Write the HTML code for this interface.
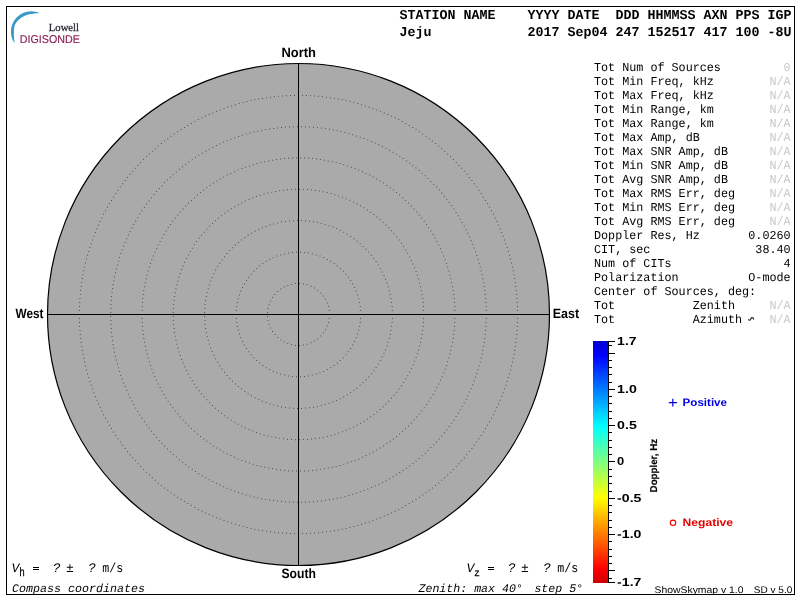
<!DOCTYPE html><html><head><meta charset="utf-8"><style>html,body{margin:0;padding:0;background:#fff;width:800px;height:600px;overflow:hidden}svg{display:block;will-change:transform;text-rendering:geometricPrecision}</style></head><body>
<svg width="800" height="600" viewBox="0 0 800 600">
<rect x="0" y="0" width="800" height="600" fill="#fff"/>
<rect x="6.5" y="6.5" width="788" height="588" fill="none" stroke="#000" stroke-width="1"/>
<path d="M39.8 13.0 A20.39 20.39 0 0 0 14.6 43.2 C14.50 42.17 14.12 38.87 14.0 37 C13.88 35.13 13.85 33.67 13.9 32 C13.95 30.33 14.05 28.33 14.3 27 C14.55 25.67 14.97 24.87 15.4 24 C15.83 23.13 16.40 22.47 16.9 21.8 C17.40 21.13 17.83 20.57 18.4 20.0 C18.97 19.43 19.55 18.95 20.3 18.4 C21.05 17.85 21.95 17.22 22.9 16.7 C23.85 16.18 24.90 15.70 26 15.3 C27.10 14.90 28.33 14.55 29.5 14.3 C30.67 14.05 31.28 14.02 33 13.8 C34.72 13.58 38.67 13.13 39.8 13.0 Z" fill="#3899c6"/>
<text x="48.8" y="30.9" font-family='"Liberation Serif", serif' font-size="10.9" fill="#2e2a33" stroke="#2e2a33" stroke-width="0.3" textLength="30.2" lengthAdjust="spacingAndGlyphs">Lowell</text>
<text x="19.8" y="43.1" font-family='"Liberation Sans", sans-serif' font-size="11.3" fill="#8c1f55" stroke="#8c1f55" stroke-width="0.15" textLength="60" lengthAdjust="spacingAndGlyphs">DIGISONDE</text>
<text x="399.4" y="19" font-family='"Liberation Mono", monospace' font-weight="bold" font-size="13.5" fill="#000" xml:space="preserve" textLength="392" lengthAdjust="spacingAndGlyphs">STATION NAME    YYYY DATE  DDD HHMMSS AXN PPS IGP</text>
<text x="399.4" y="36" font-family='"Liberation Mono", monospace' font-weight="bold" font-size="13.5" fill="#000" xml:space="preserve" textLength="392" lengthAdjust="spacingAndGlyphs">Jeju            2017 Sep04 247 152517 417 100 -8U</text>
<circle cx="298.5" cy="314.5" r="251" fill="#aaaaaa" stroke="none"/>
<path fill="#505050" d="M329.0 314.0h1v1h-1zM328.7 310.0h1v1h-1zM328.0 306.1h1v1h-1zM326.7 302.4h1v1h-1zM325.0 298.8h1v1h-1zM322.8 295.5h1v1h-1zM320.3 292.4h1v1h-1zM317.3 289.8h1v1h-1zM314.1 287.5h1v1h-1zM310.5 285.7h1v1h-1zM306.8 284.3h1v1h-1zM302.9 283.4h1v1h-1zM299.0 283.0h1v1h-1zM295.0 283.1h1v1h-1zM291.1 283.8h1v1h-1zM287.3 284.9h1v1h-1zM283.7 286.5h1v1h-1zM280.3 288.6h1v1h-1zM277.2 291.1h1v1h-1zM274.4 293.9h1v1h-1zM272.0 297.1h1v1h-1zM270.1 300.5h1v1h-1zM268.6 304.2h1v1h-1zM267.6 308.1h1v1h-1zM267.1 312.0h1v1h-1zM267.1 316.0h1v1h-1zM267.6 319.9h1v1h-1zM268.6 323.8h1v1h-1zM270.1 327.5h1v1h-1zM272.0 330.9h1v1h-1zM274.4 334.1h1v1h-1zM277.2 336.9h1v1h-1zM280.3 339.4h1v1h-1zM283.7 341.5h1v1h-1zM287.3 343.1h1v1h-1zM291.1 344.2h1v1h-1zM295.0 344.9h1v1h-1zM299.0 345.0h1v1h-1zM302.9 344.6h1v1h-1zM306.8 343.7h1v1h-1zM310.5 342.3h1v1h-1zM314.1 340.5h1v1h-1zM317.3 338.2h1v1h-1zM320.3 335.6h1v1h-1zM322.8 332.5h1v1h-1zM325.0 329.2h1v1h-1zM326.7 325.6h1v1h-1zM328.0 321.9h1v1h-1zM328.7 318.0h1v1h-1zM360.2 314.0h1v1h-1zM360.1 310.0h1v1h-1zM359.7 306.0h1v1h-1zM359.1 302.1h1v1h-1zM358.2 298.2h1v1h-1zM357.0 294.4h1v1h-1zM355.7 290.7h1v1h-1zM354.0 287.0h1v1h-1zM352.2 283.5h1v1h-1zM350.1 280.1h1v1h-1zM347.8 276.8h1v1h-1zM345.4 273.7h1v1h-1zM342.7 270.7h1v1h-1zM339.8 268.0h1v1h-1zM336.8 265.4h1v1h-1zM333.6 263.0h1v1h-1zM330.2 260.8h1v1h-1zM326.8 258.9h1v1h-1zM323.2 257.1h1v1h-1zM319.5 255.6h1v1h-1zM315.7 254.4h1v1h-1zM311.8 253.4h1v1h-1zM307.9 252.6h1v1h-1zM304.0 252.1h1v1h-1zM300.0 251.8h1v1h-1zM296.0 251.8h1v1h-1zM292.0 252.1h1v1h-1zM288.1 252.6h1v1h-1zM284.2 253.4h1v1h-1zM280.3 254.4h1v1h-1zM276.5 255.6h1v1h-1zM272.8 257.1h1v1h-1zM269.2 258.9h1v1h-1zM265.8 260.8h1v1h-1zM262.4 263.0h1v1h-1zM259.2 265.4h1v1h-1zM256.2 268.0h1v1h-1zM253.3 270.7h1v1h-1zM250.6 273.7h1v1h-1zM248.2 276.8h1v1h-1zM245.9 280.1h1v1h-1zM243.8 283.5h1v1h-1zM242.0 287.0h1v1h-1zM240.3 290.7h1v1h-1zM239.0 294.4h1v1h-1zM237.8 298.2h1v1h-1zM236.9 302.1h1v1h-1zM236.3 306.0h1v1h-1zM235.9 310.0h1v1h-1zM235.8 314.0h1v1h-1zM235.9 318.0h1v1h-1zM236.3 322.0h1v1h-1zM236.9 325.9h1v1h-1zM237.8 329.8h1v1h-1zM239.0 333.6h1v1h-1zM240.3 337.3h1v1h-1zM242.0 341.0h1v1h-1zM243.8 344.5h1v1h-1zM245.9 347.9h1v1h-1zM248.2 351.2h1v1h-1zM250.6 354.3h1v1h-1zM253.3 357.3h1v1h-1zM256.2 360.0h1v1h-1zM259.2 362.6h1v1h-1zM262.4 365.0h1v1h-1zM265.8 367.2h1v1h-1zM269.2 369.1h1v1h-1zM272.8 370.9h1v1h-1zM276.5 372.4h1v1h-1zM280.3 373.6h1v1h-1zM284.2 374.6h1v1h-1zM288.1 375.4h1v1h-1zM292.0 375.9h1v1h-1zM296.0 376.2h1v1h-1zM300.0 376.2h1v1h-1zM304.0 375.9h1v1h-1zM307.9 375.4h1v1h-1zM311.8 374.6h1v1h-1zM315.7 373.6h1v1h-1zM319.5 372.4h1v1h-1zM323.2 370.9h1v1h-1zM326.8 369.1h1v1h-1zM330.2 367.2h1v1h-1zM333.6 365.0h1v1h-1zM336.8 362.6h1v1h-1zM339.8 360.0h1v1h-1zM342.7 357.3h1v1h-1zM345.4 354.3h1v1h-1zM347.8 351.2h1v1h-1zM350.1 347.9h1v1h-1zM352.2 344.5h1v1h-1zM354.0 341.0h1v1h-1zM355.7 337.3h1v1h-1zM357.0 333.6h1v1h-1zM358.2 329.8h1v1h-1zM359.1 325.9h1v1h-1zM359.7 322.0h1v1h-1zM360.1 318.0h1v1h-1zM391.9 314.0h1v1h-1zM391.8 310.0h1v1h-1zM391.6 306.0h1v1h-1zM391.1 302.0h1v1h-1zM390.5 298.0h1v1h-1zM389.8 294.1h1v1h-1zM388.8 290.2h1v1h-1zM387.7 286.3h1v1h-1zM386.5 282.5h1v1h-1zM385.0 278.8h1v1h-1zM383.5 275.1h1v1h-1zM381.7 271.5h1v1h-1zM379.8 267.9h1v1h-1zM377.8 264.5h1v1h-1zM375.6 261.1h1v1h-1zM373.3 257.8h1v1h-1zM370.8 254.7h1v1h-1zM368.2 251.6h1v1h-1zM365.5 248.7h1v1h-1zM362.6 245.9h1v1h-1zM359.6 243.2h1v1h-1zM356.5 240.6h1v1h-1zM353.4 238.2h1v1h-1zM350.1 235.9h1v1h-1zM346.7 233.7h1v1h-1zM343.2 231.7h1v1h-1zM339.6 229.8h1v1h-1zM336.0 228.1h1v1h-1zM332.3 226.6h1v1h-1zM328.5 225.2h1v1h-1zM324.7 224.0h1v1h-1zM320.8 222.9h1v1h-1zM316.9 222.0h1v1h-1zM313.0 221.3h1v1h-1zM309.0 220.7h1v1h-1zM305.0 220.4h1v1h-1zM301.0 220.1h1v1h-1zM297.0 220.1h1v1h-1zM293.0 220.2h1v1h-1zM289.0 220.5h1v1h-1zM285.0 221.0h1v1h-1zM281.0 221.6h1v1h-1zM277.1 222.5h1v1h-1zM273.2 223.4h1v1h-1zM269.4 224.6h1v1h-1zM265.6 225.9h1v1h-1zM261.8 227.3h1v1h-1zM258.2 229.0h1v1h-1zM254.6 230.7h1v1h-1zM251.1 232.7h1v1h-1zM247.6 234.8h1v1h-1zM244.3 237.0h1v1h-1zM241.0 239.4h1v1h-1zM237.9 241.9h1v1h-1zM234.9 244.5h1v1h-1zM232.0 247.2h1v1h-1zM229.2 250.1h1v1h-1zM226.5 253.1h1v1h-1zM224.0 256.2h1v1h-1zM221.6 259.5h1v1h-1zM219.3 262.8h1v1h-1zM217.2 266.2h1v1h-1zM215.2 269.7h1v1h-1zM213.4 273.3h1v1h-1zM211.7 276.9h1v1h-1zM210.2 280.6h1v1h-1zM208.9 284.4h1v1h-1zM207.7 288.2h1v1h-1zM206.7 292.1h1v1h-1zM205.8 296.1h1v1h-1zM205.1 300.0h1v1h-1zM204.6 304.0h1v1h-1zM204.3 308.0h1v1h-1zM204.1 312.0h1v1h-1zM204.1 316.0h1v1h-1zM204.3 320.0h1v1h-1zM204.6 324.0h1v1h-1zM205.1 328.0h1v1h-1zM205.8 331.9h1v1h-1zM206.7 335.9h1v1h-1zM207.7 339.8h1v1h-1zM208.9 343.6h1v1h-1zM210.2 347.4h1v1h-1zM211.7 351.1h1v1h-1zM213.4 354.7h1v1h-1zM215.2 358.3h1v1h-1zM217.2 361.8h1v1h-1zM219.3 365.2h1v1h-1zM221.6 368.5h1v1h-1zM224.0 371.8h1v1h-1zM226.5 374.9h1v1h-1zM229.2 377.9h1v1h-1zM232.0 380.8h1v1h-1zM234.9 383.5h1v1h-1zM237.9 386.1h1v1h-1zM241.0 388.6h1v1h-1zM244.3 391.0h1v1h-1zM247.6 393.2h1v1h-1zM251.0 395.3h1v1h-1zM254.6 397.3h1v1h-1zM258.2 399.0h1v1h-1zM261.8 400.7h1v1h-1zM265.6 402.1h1v1h-1zM269.4 403.4h1v1h-1zM273.2 404.6h1v1h-1zM277.1 405.5h1v1h-1zM281.0 406.4h1v1h-1zM285.0 407.0h1v1h-1zM289.0 407.5h1v1h-1zM293.0 407.8h1v1h-1zM297.0 407.9h1v1h-1zM301.0 407.9h1v1h-1zM305.0 407.6h1v1h-1zM309.0 407.3h1v1h-1zM313.0 406.7h1v1h-1zM316.9 406.0h1v1h-1zM320.8 405.1h1v1h-1zM324.7 404.0h1v1h-1zM328.5 402.8h1v1h-1zM332.3 401.4h1v1h-1zM336.0 399.9h1v1h-1zM339.6 398.2h1v1h-1zM343.2 396.3h1v1h-1zM346.7 394.3h1v1h-1zM350.1 392.1h1v1h-1zM353.4 389.8h1v1h-1zM356.5 387.4h1v1h-1zM359.6 384.8h1v1h-1zM362.6 382.1h1v1h-1zM365.5 379.3h1v1h-1zM368.2 376.4h1v1h-1zM370.8 373.3h1v1h-1zM373.3 370.2h1v1h-1zM375.6 366.9h1v1h-1zM377.8 363.5h1v1h-1zM379.8 360.1h1v1h-1zM381.7 356.5h1v1h-1zM383.5 352.9h1v1h-1zM385.0 349.2h1v1h-1zM386.5 345.5h1v1h-1zM387.7 341.7h1v1h-1zM388.8 337.8h1v1h-1zM389.8 333.9h1v1h-1zM390.5 330.0h1v1h-1zM391.1 326.0h1v1h-1zM391.6 322.0h1v1h-1zM391.8 318.0h1v1h-1zM423.2 314.0h1v1h-1zM423.1 310.0h1v1h-1zM422.9 306.0h1v1h-1zM422.6 302.0h1v1h-1zM422.2 298.1h1v1h-1zM421.6 294.1h1v1h-1zM420.9 290.2h1v1h-1zM420.1 286.3h1v1h-1zM419.1 282.4h1v1h-1zM418.1 278.6h1v1h-1zM416.9 274.7h1v1h-1zM415.6 271.0h1v1h-1zM414.1 267.2h1v1h-1zM412.6 263.6h1v1h-1zM410.9 259.9h1v1h-1zM409.1 256.4h1v1h-1zM407.2 252.8h1v1h-1zM405.2 249.4h1v1h-1zM403.1 246.0h1v1h-1zM400.9 242.7h1v1h-1zM398.6 239.4h1v1h-1zM396.2 236.3h1v1h-1zM393.6 233.2h1v1h-1zM391.0 230.2h1v1h-1zM388.3 227.3h1v1h-1zM385.5 224.4h1v1h-1zM382.6 221.7h1v1h-1zM379.6 219.0h1v1h-1zM376.5 216.5h1v1h-1zM373.4 214.0h1v1h-1zM370.1 211.7h1v1h-1zM366.8 209.4h1v1h-1zM363.5 207.3h1v1h-1zM360.0 205.2h1v1h-1zM356.5 203.3h1v1h-1zM353.0 201.5h1v1h-1zM349.3 199.8h1v1h-1zM345.7 198.2h1v1h-1zM342.0 196.8h1v1h-1zM338.2 195.4h1v1h-1zM334.4 194.2h1v1h-1zM330.6 193.1h1v1h-1zM326.7 192.1h1v1h-1zM322.8 191.3h1v1h-1zM318.9 190.6h1v1h-1zM314.9 189.9h1v1h-1zM311.0 189.5h1v1h-1zM307.0 189.1h1v1h-1zM303.0 188.9h1v1h-1zM299.0 188.8h1v1h-1zM295.0 188.8h1v1h-1zM291.0 189.0h1v1h-1zM287.0 189.3h1v1h-1zM283.1 189.7h1v1h-1zM279.1 190.2h1v1h-1zM275.2 190.9h1v1h-1zM271.3 191.7h1v1h-1zM267.4 192.6h1v1h-1zM263.5 193.6h1v1h-1zM259.7 194.8h1v1h-1zM255.9 196.1h1v1h-1zM252.2 197.5h1v1h-1zM248.5 199.0h1v1h-1zM244.8 200.6h1v1h-1zM241.2 202.4h1v1h-1zM237.7 204.3h1v1h-1zM234.3 206.2h1v1h-1zM230.8 208.3h1v1h-1zM227.5 210.5h1v1h-1zM224.2 212.8h1v1h-1zM221.1 215.2h1v1h-1zM217.9 217.7h1v1h-1zM214.9 220.3h1v1h-1zM212.0 223.0h1v1h-1zM209.1 225.8h1v1h-1zM206.4 228.7h1v1h-1zM203.7 231.7h1v1h-1zM201.1 234.7h1v1h-1zM198.6 237.8h1v1h-1zM196.2 241.1h1v1h-1zM194.0 244.3h1v1h-1zM191.8 247.7h1v1h-1zM189.7 251.1h1v1h-1zM187.8 254.6h1v1h-1zM186.0 258.1h1v1h-1zM184.2 261.7h1v1h-1zM182.6 265.4h1v1h-1zM181.1 269.1h1v1h-1zM179.8 272.9h1v1h-1zM178.5 276.6h1v1h-1zM177.4 280.5h1v1h-1zM176.4 284.3h1v1h-1zM175.5 288.2h1v1h-1zM174.7 292.2h1v1h-1zM174.1 296.1h1v1h-1zM173.6 300.1h1v1h-1zM173.2 304.0h1v1h-1zM172.9 308.0h1v1h-1zM172.8 312.0h1v1h-1zM172.8 316.0h1v1h-1zM172.9 320.0h1v1h-1zM173.2 324.0h1v1h-1zM173.6 327.9h1v1h-1zM174.1 331.9h1v1h-1zM174.7 335.8h1v1h-1zM175.5 339.8h1v1h-1zM176.4 343.7h1v1h-1zM177.4 347.5h1v1h-1zM178.5 351.4h1v1h-1zM179.8 355.1h1v1h-1zM181.1 358.9h1v1h-1zM182.6 362.6h1v1h-1zM184.2 366.3h1v1h-1zM186.0 369.9h1v1h-1zM187.8 373.4h1v1h-1zM189.7 376.9h1v1h-1zM191.8 380.3h1v1h-1zM194.0 383.7h1v1h-1zM196.2 386.9h1v1h-1zM198.6 390.2h1v1h-1zM201.1 393.3h1v1h-1zM203.7 396.3h1v1h-1zM206.4 399.3h1v1h-1zM209.1 402.2h1v1h-1zM212.0 405.0h1v1h-1zM214.9 407.7h1v1h-1zM217.9 410.3h1v1h-1zM221.1 412.8h1v1h-1zM224.2 415.2h1v1h-1zM227.5 417.5h1v1h-1zM230.8 419.7h1v1h-1zM234.3 421.8h1v1h-1zM237.7 423.7h1v1h-1zM241.2 425.6h1v1h-1zM244.8 427.4h1v1h-1zM248.5 429.0h1v1h-1zM252.2 430.5h1v1h-1zM255.9 431.9h1v1h-1zM259.7 433.2h1v1h-1zM263.5 434.4h1v1h-1zM267.4 435.4h1v1h-1zM271.3 436.3h1v1h-1zM275.2 437.1h1v1h-1zM279.1 437.8h1v1h-1zM283.1 438.3h1v1h-1zM287.0 438.7h1v1h-1zM291.0 439.0h1v1h-1zM295.0 439.2h1v1h-1zM299.0 439.2h1v1h-1zM303.0 439.1h1v1h-1zM307.0 438.9h1v1h-1zM311.0 438.5h1v1h-1zM314.9 438.1h1v1h-1zM318.9 437.4h1v1h-1zM322.8 436.7h1v1h-1zM326.7 435.9h1v1h-1zM330.6 434.9h1v1h-1zM334.4 433.8h1v1h-1zM338.2 432.6h1v1h-1zM342.0 431.2h1v1h-1zM345.7 429.8h1v1h-1zM349.3 428.2h1v1h-1zM353.0 426.5h1v1h-1zM356.5 424.7h1v1h-1zM360.0 422.8h1v1h-1zM363.5 420.7h1v1h-1zM366.8 418.6h1v1h-1zM370.1 416.3h1v1h-1zM373.4 414.0h1v1h-1zM376.5 411.5h1v1h-1zM379.6 409.0h1v1h-1zM382.6 406.3h1v1h-1zM385.5 403.6h1v1h-1zM388.3 400.7h1v1h-1zM391.0 397.8h1v1h-1zM393.6 394.8h1v1h-1zM396.2 391.7h1v1h-1zM398.6 388.6h1v1h-1zM400.9 385.3h1v1h-1zM403.1 382.0h1v1h-1zM405.2 378.6h1v1h-1zM407.2 375.2h1v1h-1zM409.1 371.6h1v1h-1zM410.9 368.1h1v1h-1zM412.6 364.4h1v1h-1zM414.1 360.8h1v1h-1zM415.6 357.0h1v1h-1zM416.9 353.3h1v1h-1zM418.1 349.4h1v1h-1zM419.1 345.6h1v1h-1zM420.1 341.7h1v1h-1zM420.9 337.8h1v1h-1zM421.6 333.9h1v1h-1zM422.2 329.9h1v1h-1zM422.6 326.0h1v1h-1zM422.9 322.0h1v1h-1zM423.1 318.0h1v1h-1zM454.5 314.0h1v1h-1zM454.4 310.0h1v1h-1zM454.3 306.0h1v1h-1zM454.0 302.0h1v1h-1zM453.7 298.0h1v1h-1zM453.2 294.1h1v1h-1zM452.7 290.1h1v1h-1zM452.0 286.2h1v1h-1zM451.2 282.2h1v1h-1zM450.4 278.3h1v1h-1zM449.4 274.5h1v1h-1zM448.4 270.6h1v1h-1zM447.2 266.8h1v1h-1zM446.0 263.0h1v1h-1zM444.6 259.2h1v1h-1zM443.2 255.5h1v1h-1zM441.6 251.8h1v1h-1zM440.0 248.2h1v1h-1zM438.2 244.6h1v1h-1zM436.4 241.0h1v1h-1zM434.5 237.5h1v1h-1zM432.5 234.0h1v1h-1zM430.4 230.6h1v1h-1zM428.3 227.3h1v1h-1zM426.0 224.0h1v1h-1zM423.7 220.7h1v1h-1zM421.2 217.5h1v1h-1zM418.7 214.4h1v1h-1zM416.2 211.4h1v1h-1zM413.5 208.4h1v1h-1zM410.8 205.5h1v1h-1zM408.0 202.6h1v1h-1zM405.1 199.9h1v1h-1zM402.1 197.2h1v1h-1zM399.1 194.5h1v1h-1zM396.0 192.0h1v1h-1zM392.9 189.5h1v1h-1zM389.7 187.2h1v1h-1zM386.4 184.9h1v1h-1zM383.1 182.6h1v1h-1zM379.7 180.5h1v1h-1zM376.2 178.5h1v1h-1zM372.8 176.5h1v1h-1zM369.2 174.6h1v1h-1zM365.6 172.9h1v1h-1zM362.0 171.2h1v1h-1zM358.4 169.6h1v1h-1zM354.6 168.1h1v1h-1zM350.9 166.7h1v1h-1zM347.1 165.4h1v1h-1zM343.3 164.2h1v1h-1zM339.5 163.1h1v1h-1zM335.6 162.1h1v1h-1zM331.7 161.2h1v1h-1zM327.8 160.4h1v1h-1zM323.9 159.7h1v1h-1zM319.9 159.0h1v1h-1zM315.9 158.5h1v1h-1zM312.0 158.1h1v1h-1zM308.0 157.8h1v1h-1zM304.0 157.6h1v1h-1zM300.0 157.5h1v1h-1zM296.0 157.5h1v1h-1zM292.0 157.6h1v1h-1zM288.0 157.8h1v1h-1zM284.0 158.1h1v1h-1zM280.1 158.5h1v1h-1zM276.1 159.0h1v1h-1zM272.1 159.7h1v1h-1zM268.2 160.4h1v1h-1zM264.3 161.2h1v1h-1zM260.4 162.1h1v1h-1zM256.5 163.1h1v1h-1zM252.7 164.2h1v1h-1zM248.9 165.4h1v1h-1zM245.1 166.7h1v1h-1zM241.4 168.1h1v1h-1zM237.6 169.6h1v1h-1zM234.0 171.2h1v1h-1zM230.4 172.9h1v1h-1zM226.8 174.6h1v1h-1zM223.2 176.5h1v1h-1zM219.8 178.5h1v1h-1zM216.3 180.5h1v1h-1zM212.9 182.6h1v1h-1zM209.6 184.9h1v1h-1zM206.3 187.2h1v1h-1zM203.1 189.5h1v1h-1zM200.0 192.0h1v1h-1zM196.9 194.5h1v1h-1zM193.9 197.2h1v1h-1zM190.9 199.9h1v1h-1zM188.0 202.6h1v1h-1zM185.2 205.5h1v1h-1zM182.5 208.4h1v1h-1zM179.8 211.4h1v1h-1zM177.3 214.4h1v1h-1zM174.8 217.5h1v1h-1zM172.3 220.7h1v1h-1zM170.0 224.0h1v1h-1zM167.7 227.3h1v1h-1zM165.6 230.6h1v1h-1zM163.5 234.0h1v1h-1zM161.5 237.5h1v1h-1zM159.6 241.0h1v1h-1zM157.8 244.6h1v1h-1zM156.0 248.2h1v1h-1zM154.4 251.8h1v1h-1zM152.8 255.5h1v1h-1zM151.4 259.2h1v1h-1zM150.0 263.0h1v1h-1zM148.8 266.8h1v1h-1zM147.6 270.6h1v1h-1zM146.6 274.5h1v1h-1zM145.6 278.3h1v1h-1zM144.8 282.2h1v1h-1zM144.0 286.2h1v1h-1zM143.3 290.1h1v1h-1zM142.8 294.1h1v1h-1zM142.3 298.0h1v1h-1zM142.0 302.0h1v1h-1zM141.7 306.0h1v1h-1zM141.6 310.0h1v1h-1zM141.5 314.0h1v1h-1zM141.6 318.0h1v1h-1zM141.7 322.0h1v1h-1zM142.0 326.0h1v1h-1zM142.3 330.0h1v1h-1zM142.8 333.9h1v1h-1zM143.3 337.9h1v1h-1zM144.0 341.8h1v1h-1zM144.8 345.8h1v1h-1zM145.6 349.7h1v1h-1zM146.6 353.5h1v1h-1zM147.6 357.4h1v1h-1zM148.8 361.2h1v1h-1zM150.0 365.0h1v1h-1zM151.4 368.8h1v1h-1zM152.8 372.5h1v1h-1zM154.4 376.2h1v1h-1zM156.0 379.8h1v1h-1zM157.8 383.4h1v1h-1zM159.6 387.0h1v1h-1zM161.5 390.5h1v1h-1zM163.5 394.0h1v1h-1zM165.6 397.4h1v1h-1zM167.7 400.7h1v1h-1zM170.0 404.0h1v1h-1zM172.3 407.3h1v1h-1zM174.8 410.5h1v1h-1zM177.3 413.6h1v1h-1zM179.8 416.6h1v1h-1zM182.5 419.6h1v1h-1zM185.2 422.5h1v1h-1zM188.0 425.4h1v1h-1zM190.9 428.1h1v1h-1zM193.9 430.8h1v1h-1zM196.9 433.5h1v1h-1zM200.0 436.0h1v1h-1zM203.1 438.5h1v1h-1zM206.3 440.8h1v1h-1zM209.6 443.1h1v1h-1zM212.9 445.4h1v1h-1zM216.3 447.5h1v1h-1zM219.7 449.5h1v1h-1zM223.2 451.5h1v1h-1zM226.8 453.4h1v1h-1zM230.4 455.1h1v1h-1zM234.0 456.8h1v1h-1zM237.6 458.4h1v1h-1zM241.4 459.9h1v1h-1zM245.1 461.3h1v1h-1zM248.9 462.6h1v1h-1zM252.7 463.8h1v1h-1zM256.5 464.9h1v1h-1zM260.4 465.9h1v1h-1zM264.3 466.8h1v1h-1zM268.2 467.6h1v1h-1zM272.1 468.3h1v1h-1zM276.1 469.0h1v1h-1zM280.1 469.5h1v1h-1zM284.0 469.9h1v1h-1zM288.0 470.2h1v1h-1zM292.0 470.4h1v1h-1zM296.0 470.5h1v1h-1zM300.0 470.5h1v1h-1zM304.0 470.4h1v1h-1zM308.0 470.2h1v1h-1zM312.0 469.9h1v1h-1zM315.9 469.5h1v1h-1zM319.9 469.0h1v1h-1zM323.9 468.3h1v1h-1zM327.8 467.6h1v1h-1zM331.7 466.8h1v1h-1zM335.6 465.9h1v1h-1zM339.5 464.9h1v1h-1zM343.3 463.8h1v1h-1zM347.1 462.6h1v1h-1zM350.9 461.3h1v1h-1zM354.6 459.9h1v1h-1zM358.4 458.4h1v1h-1zM362.0 456.8h1v1h-1zM365.6 455.1h1v1h-1zM369.2 453.4h1v1h-1zM372.8 451.5h1v1h-1zM376.2 449.5h1v1h-1zM379.7 447.5h1v1h-1zM383.1 445.4h1v1h-1zM386.4 443.1h1v1h-1zM389.7 440.8h1v1h-1zM392.9 438.5h1v1h-1zM396.0 436.0h1v1h-1zM399.1 433.5h1v1h-1zM402.1 430.8h1v1h-1zM405.1 428.1h1v1h-1zM408.0 425.4h1v1h-1zM410.8 422.5h1v1h-1zM413.5 419.6h1v1h-1zM416.2 416.6h1v1h-1zM418.7 413.6h1v1h-1zM421.2 410.5h1v1h-1zM423.7 407.3h1v1h-1zM426.0 404.0h1v1h-1zM428.3 400.7h1v1h-1zM430.4 397.4h1v1h-1zM432.5 394.0h1v1h-1zM434.5 390.5h1v1h-1zM436.4 387.0h1v1h-1zM438.2 383.4h1v1h-1zM440.0 379.8h1v1h-1zM441.6 376.2h1v1h-1zM443.2 372.5h1v1h-1zM444.6 368.8h1v1h-1zM446.0 365.0h1v1h-1zM447.2 361.2h1v1h-1zM448.4 357.4h1v1h-1zM449.4 353.5h1v1h-1zM450.4 349.7h1v1h-1zM451.2 345.8h1v1h-1zM452.0 341.8h1v1h-1zM452.7 337.9h1v1h-1zM453.2 333.9h1v1h-1zM453.7 330.0h1v1h-1zM454.0 326.0h1v1h-1zM454.3 322.0h1v1h-1zM454.4 318.0h1v1h-1zM485.8 314.0h1v1h-1zM485.8 310.0h1v1h-1zM485.6 306.0h1v1h-1zM485.4 302.0h1v1h-1zM485.1 298.0h1v1h-1zM484.7 294.0h1v1h-1zM484.3 290.1h1v1h-1zM483.7 286.1h1v1h-1zM483.1 282.2h1v1h-1zM482.4 278.2h1v1h-1zM481.6 274.3h1v1h-1zM480.7 270.4h1v1h-1zM479.7 266.5h1v1h-1zM478.6 262.7h1v1h-1zM477.5 258.8h1v1h-1zM476.3 255.0h1v1h-1zM475.0 251.2h1v1h-1zM473.6 247.5h1v1h-1zM472.2 243.8h1v1h-1zM470.6 240.1h1v1h-1zM469.0 236.4h1v1h-1zM467.3 232.8h1v1h-1zM465.6 229.2h1v1h-1zM463.7 225.6h1v1h-1zM461.8 222.1h1v1h-1zM459.8 218.7h1v1h-1zM457.7 215.2h1v1h-1zM455.6 211.9h1v1h-1zM453.4 208.5h1v1h-1zM451.1 205.2h1v1h-1zM448.7 202.0h1v1h-1zM446.3 198.8h1v1h-1zM443.8 195.7h1v1h-1zM441.3 192.6h1v1h-1zM438.7 189.6h1v1h-1zM436.0 186.6h1v1h-1zM433.2 183.7h1v1h-1zM430.4 180.9h1v1h-1zM427.6 178.1h1v1h-1zM424.7 175.3h1v1h-1zM421.7 172.7h1v1h-1zM418.6 170.1h1v1h-1zM415.5 167.5h1v1h-1zM412.4 165.1h1v1h-1zM409.2 162.7h1v1h-1zM405.9 160.3h1v1h-1zM402.6 158.1h1v1h-1zM399.3 155.9h1v1h-1zM395.9 153.7h1v1h-1zM392.5 151.7h1v1h-1zM389.0 149.7h1v1h-1zM385.5 147.8h1v1h-1zM381.9 146.0h1v1h-1zM378.3 144.2h1v1h-1zM374.7 142.6h1v1h-1zM371.0 141.0h1v1h-1zM367.3 139.5h1v1h-1zM363.6 138.0h1v1h-1zM359.8 136.7h1v1h-1zM356.0 135.4h1v1h-1zM352.2 134.2h1v1h-1zM348.4 133.1h1v1h-1zM344.5 132.1h1v1h-1zM340.6 131.1h1v1h-1zM336.7 130.2h1v1h-1zM332.8 129.5h1v1h-1zM328.9 128.8h1v1h-1zM324.9 128.1h1v1h-1zM320.9 127.6h1v1h-1zM317.0 127.2h1v1h-1zM313.0 126.8h1v1h-1zM309.0 126.5h1v1h-1zM305.0 126.3h1v1h-1zM301.0 126.2h1v1h-1zM297.0 126.2h1v1h-1zM293.0 126.3h1v1h-1zM289.0 126.4h1v1h-1zM285.0 126.6h1v1h-1zM281.0 127.0h1v1h-1zM277.0 127.4h1v1h-1zM273.1 127.9h1v1h-1zM269.1 128.4h1v1h-1zM265.2 129.1h1v1h-1zM261.2 129.8h1v1h-1zM257.3 130.7h1v1h-1zM253.4 131.6h1v1h-1zM249.6 132.6h1v1h-1zM245.7 133.6h1v1h-1zM241.9 134.8h1v1h-1zM238.1 136.0h1v1h-1zM234.3 137.3h1v1h-1zM230.5 138.7h1v1h-1zM226.8 140.2h1v1h-1zM223.1 141.8h1v1h-1zM219.5 143.4h1v1h-1zM215.9 145.1h1v1h-1zM212.3 146.9h1v1h-1zM208.8 148.8h1v1h-1zM205.3 150.7h1v1h-1zM201.8 152.7h1v1h-1zM198.4 154.8h1v1h-1zM195.0 157.0h1v1h-1zM191.7 159.2h1v1h-1zM188.4 161.5h1v1h-1zM185.2 163.8h1v1h-1zM182.0 166.3h1v1h-1zM178.9 168.8h1v1h-1zM175.8 171.4h1v1h-1zM172.8 174.0h1v1h-1zM169.9 176.7h1v1h-1zM167.0 179.4h1v1h-1zM164.1 182.3h1v1h-1zM161.4 185.2h1v1h-1zM158.7 188.1h1v1h-1zM156.0 191.1h1v1h-1zM153.4 194.1h1v1h-1zM150.9 197.2h1v1h-1zM148.5 200.4h1v1h-1zM146.1 203.6h1v1h-1zM143.8 206.9h1v1h-1zM141.5 210.2h1v1h-1zM139.3 213.5h1v1h-1zM137.2 216.9h1v1h-1zM135.2 220.4h1v1h-1zM133.2 223.9h1v1h-1zM131.4 227.4h1v1h-1zM129.5 231.0h1v1h-1zM127.8 234.6h1v1h-1zM126.2 238.2h1v1h-1zM124.6 241.9h1v1h-1zM123.1 245.6h1v1h-1zM121.7 249.4h1v1h-1zM120.3 253.1h1v1h-1zM119.1 256.9h1v1h-1zM117.9 260.7h1v1h-1zM116.8 264.6h1v1h-1zM115.8 268.5h1v1h-1zM114.9 272.3h1v1h-1zM114.0 276.3h1v1h-1zM113.3 280.2h1v1h-1zM112.6 284.1h1v1h-1zM112.0 288.1h1v1h-1zM111.5 292.1h1v1h-1zM111.1 296.0h1v1h-1zM110.7 300.0h1v1h-1zM110.5 304.0h1v1h-1zM110.3 308.0h1v1h-1zM110.2 312.0h1v1h-1zM110.2 316.0h1v1h-1zM110.3 320.0h1v1h-1zM110.5 324.0h1v1h-1zM110.7 328.0h1v1h-1zM111.1 332.0h1v1h-1zM111.5 335.9h1v1h-1zM112.0 339.9h1v1h-1zM112.6 343.9h1v1h-1zM113.3 347.8h1v1h-1zM114.0 351.7h1v1h-1zM114.9 355.7h1v1h-1zM115.8 359.5h1v1h-1zM116.8 363.4h1v1h-1zM117.9 367.3h1v1h-1zM119.1 371.1h1v1h-1zM120.3 374.9h1v1h-1zM121.7 378.6h1v1h-1zM123.1 382.4h1v1h-1zM124.6 386.1h1v1h-1zM126.2 389.8h1v1h-1zM127.8 393.4h1v1h-1zM129.5 397.0h1v1h-1zM131.4 400.6h1v1h-1zM133.2 404.1h1v1h-1zM135.2 407.6h1v1h-1zM137.2 411.1h1v1h-1zM139.3 414.5h1v1h-1zM141.5 417.8h1v1h-1zM143.8 421.1h1v1h-1zM146.1 424.4h1v1h-1zM148.5 427.6h1v1h-1zM150.9 430.8h1v1h-1zM153.4 433.9h1v1h-1zM156.0 436.9h1v1h-1zM158.7 439.9h1v1h-1zM161.4 442.8h1v1h-1zM164.1 445.7h1v1h-1zM167.0 448.6h1v1h-1zM169.9 451.3h1v1h-1zM172.8 454.0h1v1h-1zM175.8 456.6h1v1h-1zM178.9 459.2h1v1h-1zM182.0 461.7h1v1h-1zM185.2 464.2h1v1h-1zM188.4 466.5h1v1h-1zM191.7 468.8h1v1h-1zM195.0 471.0h1v1h-1zM198.4 473.2h1v1h-1zM201.8 475.3h1v1h-1zM205.3 477.3h1v1h-1zM208.8 479.2h1v1h-1zM212.3 481.1h1v1h-1zM215.9 482.9h1v1h-1zM219.5 484.6h1v1h-1zM223.1 486.2h1v1h-1zM226.8 487.8h1v1h-1zM230.5 489.3h1v1h-1zM234.3 490.7h1v1h-1zM238.1 492.0h1v1h-1zM241.9 493.2h1v1h-1zM245.7 494.4h1v1h-1zM249.6 495.4h1v1h-1zM253.4 496.4h1v1h-1zM257.3 497.3h1v1h-1zM261.2 498.2h1v1h-1zM265.2 498.9h1v1h-1zM269.1 499.6h1v1h-1zM273.1 500.1h1v1h-1zM277.0 500.6h1v1h-1zM281.0 501.0h1v1h-1zM285.0 501.4h1v1h-1zM289.0 501.6h1v1h-1zM293.0 501.7h1v1h-1zM297.0 501.8h1v1h-1zM301.0 501.8h1v1h-1zM305.0 501.7h1v1h-1zM309.0 501.5h1v1h-1zM313.0 501.2h1v1h-1zM317.0 500.8h1v1h-1zM320.9 500.4h1v1h-1zM324.9 499.9h1v1h-1zM328.9 499.2h1v1h-1zM332.8 498.5h1v1h-1zM336.7 497.8h1v1h-1zM340.6 496.9h1v1h-1zM344.5 495.9h1v1h-1zM348.4 494.9h1v1h-1zM352.2 493.8h1v1h-1zM356.0 492.6h1v1h-1zM359.8 491.3h1v1h-1zM363.6 490.0h1v1h-1zM367.3 488.5h1v1h-1zM371.0 487.0h1v1h-1zM374.7 485.4h1v1h-1zM378.3 483.8h1v1h-1zM381.9 482.0h1v1h-1zM385.5 480.2h1v1h-1zM389.0 478.3h1v1h-1zM392.5 476.3h1v1h-1zM395.9 474.3h1v1h-1zM399.3 472.1h1v1h-1zM402.6 469.9h1v1h-1zM405.9 467.7h1v1h-1zM409.2 465.3h1v1h-1zM412.4 462.9h1v1h-1zM415.5 460.5h1v1h-1zM418.6 457.9h1v1h-1zM421.7 455.3h1v1h-1zM424.7 452.7h1v1h-1zM427.6 449.9h1v1h-1zM430.4 447.1h1v1h-1zM433.2 444.3h1v1h-1zM436.0 441.4h1v1h-1zM438.7 438.4h1v1h-1zM441.3 435.4h1v1h-1zM443.8 432.3h1v1h-1zM446.3 429.2h1v1h-1zM448.7 426.0h1v1h-1zM451.1 422.8h1v1h-1zM453.4 419.5h1v1h-1zM455.6 416.1h1v1h-1zM457.7 412.8h1v1h-1zM459.8 409.3h1v1h-1zM461.8 405.9h1v1h-1zM463.7 402.4h1v1h-1zM465.6 398.8h1v1h-1zM467.3 395.2h1v1h-1zM469.0 391.6h1v1h-1zM470.6 387.9h1v1h-1zM472.2 384.2h1v1h-1zM473.6 380.5h1v1h-1zM475.0 376.8h1v1h-1zM476.3 373.0h1v1h-1zM477.5 369.2h1v1h-1zM478.6 365.3h1v1h-1zM479.7 361.5h1v1h-1zM480.7 357.6h1v1h-1zM481.6 353.7h1v1h-1zM482.4 349.8h1v1h-1zM483.1 345.8h1v1h-1zM483.7 341.9h1v1h-1zM484.3 337.9h1v1h-1zM484.7 334.0h1v1h-1zM485.1 330.0h1v1h-1zM485.4 326.0h1v1h-1zM485.6 322.0h1v1h-1zM485.8 318.0h1v1h-1zM517.1 314.0h1v1h-1zM517.1 310.0h1v1h-1zM517.0 306.0h1v1h-1zM516.8 302.0h1v1h-1zM516.5 298.0h1v1h-1zM516.2 294.0h1v1h-1zM515.8 290.0h1v1h-1zM515.3 286.1h1v1h-1zM514.8 282.1h1v1h-1zM514.1 278.1h1v1h-1zM513.5 274.2h1v1h-1zM512.7 270.3h1v1h-1zM511.9 266.4h1v1h-1zM511.0 262.5h1v1h-1zM510.0 258.6h1v1h-1zM508.9 254.7h1v1h-1zM507.8 250.9h1v1h-1zM506.6 247.1h1v1h-1zM505.4 243.3h1v1h-1zM504.0 239.5h1v1h-1zM502.6 235.7h1v1h-1zM501.2 232.0h1v1h-1zM499.6 228.3h1v1h-1zM498.0 224.6h1v1h-1zM496.4 221.0h1v1h-1zM494.7 217.4h1v1h-1zM492.9 213.8h1v1h-1zM491.0 210.3h1v1h-1zM489.1 206.8h1v1h-1zM487.1 203.3h1v1h-1zM485.0 199.9h1v1h-1zM482.9 196.5h1v1h-1zM480.7 193.1h1v1h-1zM478.5 189.8h1v1h-1zM476.2 186.5h1v1h-1zM473.8 183.3h1v1h-1zM471.4 180.1h1v1h-1zM468.9 176.9h1v1h-1zM466.4 173.8h1v1h-1zM463.8 170.8h1v1h-1zM461.2 167.8h1v1h-1zM458.5 164.8h1v1h-1zM455.7 161.9h1v1h-1zM452.9 159.1h1v1h-1zM450.1 156.3h1v1h-1zM447.2 153.5h1v1h-1zM444.2 150.8h1v1h-1zM441.2 148.2h1v1h-1zM438.2 145.6h1v1h-1zM435.1 143.1h1v1h-1zM431.9 140.6h1v1h-1zM428.7 138.2h1v1h-1zM425.5 135.8h1v1h-1zM422.2 133.5h1v1h-1zM418.9 131.3h1v1h-1zM415.5 129.1h1v1h-1zM412.1 127.0h1v1h-1zM408.7 124.9h1v1h-1zM405.2 122.9h1v1h-1zM401.7 121.0h1v1h-1zM398.2 119.1h1v1h-1zM394.6 117.3h1v1h-1zM391.0 115.6h1v1h-1zM387.4 114.0h1v1h-1zM383.7 112.4h1v1h-1zM380.0 110.8h1v1h-1zM376.3 109.4h1v1h-1zM372.5 108.0h1v1h-1zM368.7 106.6h1v1h-1zM364.9 105.4h1v1h-1zM361.1 104.2h1v1h-1zM357.3 103.1h1v1h-1zM353.4 102.0h1v1h-1zM349.5 101.0h1v1h-1zM345.6 100.1h1v1h-1zM341.7 99.3h1v1h-1zM337.8 98.5h1v1h-1zM333.9 97.9h1v1h-1zM329.9 97.2h1v1h-1zM325.9 96.7h1v1h-1zM322.0 96.2h1v1h-1zM318.0 95.8h1v1h-1zM314.0 95.5h1v1h-1zM310.0 95.2h1v1h-1zM306.0 95.0h1v1h-1zM302.0 94.9h1v1h-1zM298.0 94.9h1v1h-1zM294.0 94.9h1v1h-1zM290.0 95.0h1v1h-1zM286.0 95.2h1v1h-1zM282.0 95.5h1v1h-1zM278.0 95.8h1v1h-1zM274.0 96.2h1v1h-1zM270.1 96.7h1v1h-1zM266.1 97.2h1v1h-1zM262.1 97.9h1v1h-1zM258.2 98.5h1v1h-1zM254.3 99.3h1v1h-1zM250.4 100.1h1v1h-1zM246.5 101.0h1v1h-1zM242.6 102.0h1v1h-1zM238.7 103.1h1v1h-1zM234.9 104.2h1v1h-1zM231.1 105.4h1v1h-1zM227.3 106.6h1v1h-1zM223.5 108.0h1v1h-1zM219.7 109.4h1v1h-1zM216.0 110.8h1v1h-1zM212.3 112.4h1v1h-1zM208.6 114.0h1v1h-1zM205.0 115.6h1v1h-1zM201.4 117.3h1v1h-1zM197.8 119.1h1v1h-1zM194.3 121.0h1v1h-1zM190.8 122.9h1v1h-1zM187.3 124.9h1v1h-1zM183.9 127.0h1v1h-1zM180.5 129.1h1v1h-1zM177.1 131.3h1v1h-1zM173.8 133.5h1v1h-1zM170.5 135.8h1v1h-1zM167.3 138.2h1v1h-1zM164.1 140.6h1v1h-1zM160.9 143.1h1v1h-1zM157.8 145.6h1v1h-1zM154.8 148.2h1v1h-1zM151.8 150.8h1v1h-1zM148.8 153.5h1v1h-1zM145.9 156.3h1v1h-1zM143.1 159.1h1v1h-1zM140.3 161.9h1v1h-1zM137.5 164.8h1v1h-1zM134.8 167.8h1v1h-1zM132.2 170.8h1v1h-1zM129.6 173.8h1v1h-1zM127.1 176.9h1v1h-1zM124.6 180.1h1v1h-1zM122.2 183.3h1v1h-1zM119.8 186.5h1v1h-1zM117.5 189.8h1v1h-1zM115.3 193.1h1v1h-1zM113.1 196.5h1v1h-1zM111.0 199.9h1v1h-1zM108.9 203.3h1v1h-1zM106.9 206.8h1v1h-1zM105.0 210.3h1v1h-1zM103.1 213.8h1v1h-1zM101.3 217.4h1v1h-1zM99.6 221.0h1v1h-1zM98.0 224.6h1v1h-1zM96.4 228.3h1v1h-1zM94.8 232.0h1v1h-1zM93.4 235.7h1v1h-1zM92.0 239.5h1v1h-1zM90.6 243.3h1v1h-1zM89.4 247.1h1v1h-1zM88.2 250.9h1v1h-1zM87.1 254.7h1v1h-1zM86.0 258.6h1v1h-1zM85.0 262.5h1v1h-1zM84.1 266.4h1v1h-1zM83.3 270.3h1v1h-1zM82.5 274.2h1v1h-1zM81.9 278.1h1v1h-1zM81.2 282.1h1v1h-1zM80.7 286.1h1v1h-1zM80.2 290.0h1v1h-1zM79.8 294.0h1v1h-1zM79.5 298.0h1v1h-1zM79.2 302.0h1v1h-1zM79.0 306.0h1v1h-1zM78.9 310.0h1v1h-1zM78.9 314.0h1v1h-1zM78.9 318.0h1v1h-1zM79.0 322.0h1v1h-1zM79.2 326.0h1v1h-1zM79.5 330.0h1v1h-1zM79.8 334.0h1v1h-1zM80.2 338.0h1v1h-1zM80.7 341.9h1v1h-1zM81.2 345.9h1v1h-1zM81.9 349.9h1v1h-1zM82.5 353.8h1v1h-1zM83.3 357.7h1v1h-1zM84.1 361.6h1v1h-1zM85.0 365.5h1v1h-1zM86.0 369.4h1v1h-1zM87.1 373.3h1v1h-1zM88.2 377.1h1v1h-1zM89.4 380.9h1v1h-1zM90.6 384.7h1v1h-1zM92.0 388.5h1v1h-1zM93.4 392.3h1v1h-1zM94.8 396.0h1v1h-1zM96.4 399.7h1v1h-1zM98.0 403.4h1v1h-1zM99.6 407.0h1v1h-1zM101.3 410.6h1v1h-1zM103.1 414.2h1v1h-1zM105.0 417.7h1v1h-1zM106.9 421.2h1v1h-1zM108.9 424.7h1v1h-1zM111.0 428.1h1v1h-1zM113.1 431.5h1v1h-1zM115.3 434.9h1v1h-1zM117.5 438.2h1v1h-1zM119.8 441.5h1v1h-1zM122.2 444.7h1v1h-1zM124.6 447.9h1v1h-1zM127.1 451.1h1v1h-1zM129.6 454.2h1v1h-1zM132.2 457.2h1v1h-1zM134.8 460.2h1v1h-1zM137.5 463.2h1v1h-1zM140.3 466.1h1v1h-1zM143.1 468.9h1v1h-1zM145.9 471.7h1v1h-1zM148.8 474.5h1v1h-1zM151.8 477.2h1v1h-1zM154.8 479.8h1v1h-1zM157.8 482.4h1v1h-1zM160.9 484.9h1v1h-1zM164.1 487.4h1v1h-1zM167.3 489.8h1v1h-1zM170.5 492.2h1v1h-1zM173.8 494.5h1v1h-1zM177.1 496.7h1v1h-1zM180.5 498.9h1v1h-1zM183.9 501.0h1v1h-1zM187.3 503.1h1v1h-1zM190.8 505.1h1v1h-1zM194.3 507.0h1v1h-1zM197.8 508.9h1v1h-1zM201.4 510.7h1v1h-1zM205.0 512.4h1v1h-1zM208.6 514.0h1v1h-1zM212.3 515.6h1v1h-1zM216.0 517.2h1v1h-1zM219.7 518.6h1v1h-1zM223.5 520.0h1v1h-1zM227.3 521.4h1v1h-1zM231.1 522.6h1v1h-1zM234.9 523.8h1v1h-1zM238.7 524.9h1v1h-1zM242.6 526.0h1v1h-1zM246.5 527.0h1v1h-1zM250.4 527.9h1v1h-1zM254.3 528.7h1v1h-1zM258.2 529.5h1v1h-1zM262.1 530.1h1v1h-1zM266.1 530.8h1v1h-1zM270.1 531.3h1v1h-1zM274.0 531.8h1v1h-1zM278.0 532.2h1v1h-1zM282.0 532.5h1v1h-1zM286.0 532.8h1v1h-1zM290.0 533.0h1v1h-1zM294.0 533.1h1v1h-1zM298.0 533.1h1v1h-1zM302.0 533.1h1v1h-1zM306.0 533.0h1v1h-1zM310.0 532.8h1v1h-1zM314.0 532.5h1v1h-1zM318.0 532.2h1v1h-1zM322.0 531.8h1v1h-1zM325.9 531.3h1v1h-1zM329.9 530.8h1v1h-1zM333.9 530.1h1v1h-1zM337.8 529.5h1v1h-1zM341.7 528.7h1v1h-1zM345.6 527.9h1v1h-1zM349.5 527.0h1v1h-1zM353.4 526.0h1v1h-1zM357.3 524.9h1v1h-1zM361.1 523.8h1v1h-1zM364.9 522.6h1v1h-1zM368.7 521.4h1v1h-1zM372.5 520.0h1v1h-1zM376.3 518.6h1v1h-1zM380.0 517.2h1v1h-1zM383.7 515.6h1v1h-1zM387.4 514.0h1v1h-1zM391.0 512.4h1v1h-1zM394.6 510.7h1v1h-1zM398.2 508.9h1v1h-1zM401.7 507.0h1v1h-1zM405.2 505.1h1v1h-1zM408.7 503.1h1v1h-1zM412.1 501.0h1v1h-1zM415.5 498.9h1v1h-1zM418.9 496.7h1v1h-1zM422.2 494.5h1v1h-1zM425.5 492.2h1v1h-1zM428.7 489.8h1v1h-1zM431.9 487.4h1v1h-1zM435.1 484.9h1v1h-1zM438.2 482.4h1v1h-1zM441.2 479.8h1v1h-1zM444.2 477.2h1v1h-1zM447.2 474.5h1v1h-1zM450.1 471.7h1v1h-1zM452.9 468.9h1v1h-1zM455.7 466.1h1v1h-1zM458.5 463.2h1v1h-1zM461.2 460.2h1v1h-1zM463.8 457.2h1v1h-1zM466.4 454.2h1v1h-1zM468.9 451.1h1v1h-1zM471.4 447.9h1v1h-1zM473.8 444.7h1v1h-1zM476.2 441.5h1v1h-1zM478.5 438.2h1v1h-1zM480.7 434.9h1v1h-1zM482.9 431.5h1v1h-1zM485.0 428.1h1v1h-1zM487.1 424.7h1v1h-1zM489.1 421.2h1v1h-1zM491.0 417.7h1v1h-1zM492.9 414.2h1v1h-1zM494.7 410.6h1v1h-1zM496.4 407.0h1v1h-1zM498.0 403.4h1v1h-1zM499.6 399.7h1v1h-1zM501.2 396.0h1v1h-1zM502.6 392.3h1v1h-1zM504.0 388.5h1v1h-1zM505.4 384.7h1v1h-1zM506.6 380.9h1v1h-1zM507.8 377.1h1v1h-1zM508.9 373.3h1v1h-1zM510.0 369.4h1v1h-1zM511.0 365.5h1v1h-1zM511.9 361.6h1v1h-1zM512.7 357.7h1v1h-1zM513.5 353.8h1v1h-1zM514.1 349.9h1v1h-1zM514.8 345.9h1v1h-1zM515.3 341.9h1v1h-1zM515.8 338.0h1v1h-1zM516.2 334.0h1v1h-1zM516.5 330.0h1v1h-1zM516.8 326.0h1v1h-1zM517.0 322.0h1v1h-1zM517.1 318.0h1v1h-1z"/>
<circle cx="298.5" cy="314.5" r="251" fill="none" stroke="#000" stroke-width="1.2"/>
<line x1="298.5" y1="63.5" x2="298.5" y2="565.5" stroke="#000" stroke-width="1"/>
<line x1="47.5" y1="314.5" x2="549.5" y2="314.5" stroke="#000" stroke-width="1"/>
<text x="281.5" y="56.7" font-family='"Liberation Sans", sans-serif' font-weight="bold" font-size="13.6" text-anchor="start" textLength="34.5" lengthAdjust="spacingAndGlyphs">North</text>
<text x="281.5" y="577.9" font-family='"Liberation Sans", sans-serif' font-weight="bold" font-size="13.6" text-anchor="start" textLength="34.5" lengthAdjust="spacingAndGlyphs">South</text>
<text x="15.5" y="318" font-family='"Liberation Sans", sans-serif' font-weight="bold" font-size="13.6" text-anchor="start" textLength="28" lengthAdjust="spacingAndGlyphs">West</text>
<text x="552.8" y="317.9" font-family='"Liberation Sans", sans-serif' font-weight="bold" font-size="13.6" text-anchor="start" textLength="26.3" lengthAdjust="spacingAndGlyphs">East</text>
<text x="594" y="71" font-family='"Liberation Mono", monospace' font-size="12.1" fill="#000" xml:space="preserve" textLength="126.90" lengthAdjust="spacingAndGlyphs">Tot Num of Sources</text>
<text x="790.6" y="71" font-family='"Liberation Mono", monospace' font-size="12.1" fill="#c8c8c8" text-anchor="end" textLength="7.05" lengthAdjust="spacingAndGlyphs">0</text>
<text x="594" y="85" font-family='"Liberation Mono", monospace' font-size="12.1" fill="#000" xml:space="preserve" textLength="119.85" lengthAdjust="spacingAndGlyphs">Tot Min Freq, kHz</text>
<text x="790.6" y="85" font-family='"Liberation Mono", monospace' font-size="12.1" fill="#c8c8c8" text-anchor="end" textLength="21.15" lengthAdjust="spacingAndGlyphs">N/A</text>
<text x="594" y="99" font-family='"Liberation Mono", monospace' font-size="12.1" fill="#000" xml:space="preserve" textLength="119.85" lengthAdjust="spacingAndGlyphs">Tot Max Freq, kHz</text>
<text x="790.6" y="99" font-family='"Liberation Mono", monospace' font-size="12.1" fill="#c8c8c8" text-anchor="end" textLength="21.15" lengthAdjust="spacingAndGlyphs">N/A</text>
<text x="594" y="113" font-family='"Liberation Mono", monospace' font-size="12.1" fill="#000" xml:space="preserve" textLength="119.85" lengthAdjust="spacingAndGlyphs">Tot Min Range, km</text>
<text x="790.6" y="113" font-family='"Liberation Mono", monospace' font-size="12.1" fill="#c8c8c8" text-anchor="end" textLength="21.15" lengthAdjust="spacingAndGlyphs">N/A</text>
<text x="594" y="127" font-family='"Liberation Mono", monospace' font-size="12.1" fill="#000" xml:space="preserve" textLength="119.85" lengthAdjust="spacingAndGlyphs">Tot Max Range, km</text>
<text x="790.6" y="127" font-family='"Liberation Mono", monospace' font-size="12.1" fill="#c8c8c8" text-anchor="end" textLength="21.15" lengthAdjust="spacingAndGlyphs">N/A</text>
<text x="594" y="141" font-family='"Liberation Mono", monospace' font-size="12.1" fill="#000" xml:space="preserve" textLength="105.75" lengthAdjust="spacingAndGlyphs">Tot Max Amp, dB</text>
<text x="790.6" y="141" font-family='"Liberation Mono", monospace' font-size="12.1" fill="#c8c8c8" text-anchor="end" textLength="21.15" lengthAdjust="spacingAndGlyphs">N/A</text>
<text x="594" y="155" font-family='"Liberation Mono", monospace' font-size="12.1" fill="#000" xml:space="preserve" textLength="133.95" lengthAdjust="spacingAndGlyphs">Tot Max SNR Amp, dB</text>
<text x="790.6" y="155" font-family='"Liberation Mono", monospace' font-size="12.1" fill="#c8c8c8" text-anchor="end" textLength="21.15" lengthAdjust="spacingAndGlyphs">N/A</text>
<text x="594" y="169" font-family='"Liberation Mono", monospace' font-size="12.1" fill="#000" xml:space="preserve" textLength="133.95" lengthAdjust="spacingAndGlyphs">Tot Min SNR Amp, dB</text>
<text x="790.6" y="169" font-family='"Liberation Mono", monospace' font-size="12.1" fill="#c8c8c8" text-anchor="end" textLength="21.15" lengthAdjust="spacingAndGlyphs">N/A</text>
<text x="594" y="183" font-family='"Liberation Mono", monospace' font-size="12.1" fill="#000" xml:space="preserve" textLength="133.95" lengthAdjust="spacingAndGlyphs">Tot Avg SNR Amp, dB</text>
<text x="790.6" y="183" font-family='"Liberation Mono", monospace' font-size="12.1" fill="#c8c8c8" text-anchor="end" textLength="21.15" lengthAdjust="spacingAndGlyphs">N/A</text>
<text x="594" y="197" font-family='"Liberation Mono", monospace' font-size="12.1" fill="#000" xml:space="preserve" textLength="141.00" lengthAdjust="spacingAndGlyphs">Tot Max RMS Err, deg</text>
<text x="790.6" y="197" font-family='"Liberation Mono", monospace' font-size="12.1" fill="#c8c8c8" text-anchor="end" textLength="21.15" lengthAdjust="spacingAndGlyphs">N/A</text>
<text x="594" y="211" font-family='"Liberation Mono", monospace' font-size="12.1" fill="#000" xml:space="preserve" textLength="141.00" lengthAdjust="spacingAndGlyphs">Tot Min RMS Err, deg</text>
<text x="790.6" y="211" font-family='"Liberation Mono", monospace' font-size="12.1" fill="#c8c8c8" text-anchor="end" textLength="21.15" lengthAdjust="spacingAndGlyphs">N/A</text>
<text x="594" y="225" font-family='"Liberation Mono", monospace' font-size="12.1" fill="#000" xml:space="preserve" textLength="141.00" lengthAdjust="spacingAndGlyphs">Tot Avg RMS Err, deg</text>
<text x="790.6" y="225" font-family='"Liberation Mono", monospace' font-size="12.1" fill="#c8c8c8" text-anchor="end" textLength="21.15" lengthAdjust="spacingAndGlyphs">N/A</text>
<text x="594" y="239" font-family='"Liberation Mono", monospace' font-size="12.1" fill="#000" xml:space="preserve" textLength="105.75" lengthAdjust="spacingAndGlyphs">Doppler Res, Hz</text>
<text x="790.6" y="239" font-family='"Liberation Mono", monospace' font-size="12.1" fill="#000" text-anchor="end" textLength="42.30" lengthAdjust="spacingAndGlyphs">0.0260</text>
<text x="594" y="253" font-family='"Liberation Mono", monospace' font-size="12.1" fill="#000" xml:space="preserve" textLength="56.40" lengthAdjust="spacingAndGlyphs">CIT, sec</text>
<text x="790.6" y="253" font-family='"Liberation Mono", monospace' font-size="12.1" fill="#000" text-anchor="end" textLength="35.25" lengthAdjust="spacingAndGlyphs">38.40</text>
<text x="594" y="267" font-family='"Liberation Mono", monospace' font-size="12.1" fill="#000" xml:space="preserve" textLength="77.55" lengthAdjust="spacingAndGlyphs">Num of CITs</text>
<text x="790.6" y="267" font-family='"Liberation Mono", monospace' font-size="12.1" fill="#000" text-anchor="end" textLength="7.05" lengthAdjust="spacingAndGlyphs">4</text>
<text x="594" y="281" font-family='"Liberation Mono", monospace' font-size="12.1" fill="#000" xml:space="preserve" textLength="84.60" lengthAdjust="spacingAndGlyphs">Polarization</text>
<text x="790.6" y="281" font-family='"Liberation Mono", monospace' font-size="12.1" fill="#000" text-anchor="end" textLength="42.30" lengthAdjust="spacingAndGlyphs">O-mode</text>
<text x="594" y="295" font-family='"Liberation Mono", monospace' font-size="12.1" fill="#000" xml:space="preserve" textLength="162.15" lengthAdjust="spacingAndGlyphs">Center of Sources, deg:</text>
<text x="594" y="309" font-family='"Liberation Mono", monospace' font-size="12.1" fill="#000" xml:space="preserve" textLength="141.00" lengthAdjust="spacingAndGlyphs">Tot           Zenith</text>
<text x="790.6" y="309" font-family='"Liberation Mono", monospace' font-size="12.1" fill="#c8c8c8" text-anchor="end" textLength="21.15" lengthAdjust="spacingAndGlyphs">N/A</text>
<text x="594" y="323" font-family='"Liberation Mono", monospace' font-size="12.1" fill="#000" xml:space="preserve" textLength="148.05" lengthAdjust="spacingAndGlyphs">Tot           Azimuth</text>
<text x="790.6" y="323" font-family='"Liberation Mono", monospace' font-size="12.1" fill="#c8c8c8" text-anchor="end" textLength="21.15" lengthAdjust="spacingAndGlyphs">N/A</text>
<path d="M748.3 319.4 Q749.6 321.2 750.6 319.2 Q751.7 316.7 753.3 318 L753.6 319.7" fill="none" stroke="#222" stroke-width="1.15"/>
<defs><linearGradient id="jet" gradientUnits="userSpaceOnUse" x1="0" y1="319.65" x2="0" y2="604.35"><stop offset="0" stop-color="#000080"/><stop offset="0.125" stop-color="#0000ff"/><stop offset="0.375" stop-color="#00ffff"/><stop offset="0.625" stop-color="#ffff00"/><stop offset="0.875" stop-color="#ff0000"/><stop offset="1" stop-color="#800000"/></linearGradient></defs>
<rect x="593" y="341" width="15" height="242" fill="url(#jet)"/>
<line x1="608.5" y1="341" x2="608.5" y2="583" stroke="#000" stroke-width="1"/>
<line x1="608" y1="341.5" x2="615" y2="341.5" stroke="#000" stroke-width="1"/>
<line x1="608" y1="582.5" x2="615" y2="582.5" stroke="#000" stroke-width="1"/>
<line x1="608" y1="345.5" x2="612" y2="345.5" stroke="#000" stroke-width="1"/>
<line x1="608" y1="353.5" x2="615" y2="353.5" stroke="#000" stroke-width="1"/>
<line x1="608" y1="360.5" x2="612" y2="360.5" stroke="#000" stroke-width="1"/>
<line x1="608" y1="367.5" x2="612" y2="367.5" stroke="#000" stroke-width="1"/>
<line x1="608" y1="374.5" x2="612" y2="374.5" stroke="#000" stroke-width="1"/>
<line x1="608" y1="382.5" x2="612" y2="382.5" stroke="#000" stroke-width="1"/>
<line x1="608" y1="389.5" x2="615" y2="389.5" stroke="#000" stroke-width="1"/>
<line x1="608" y1="396.5" x2="612" y2="396.5" stroke="#000" stroke-width="1"/>
<line x1="608" y1="403.5" x2="612" y2="403.5" stroke="#000" stroke-width="1"/>
<line x1="608" y1="411.5" x2="612" y2="411.5" stroke="#000" stroke-width="1"/>
<line x1="608" y1="418.5" x2="612" y2="418.5" stroke="#000" stroke-width="1"/>
<line x1="608" y1="425.5" x2="615" y2="425.5" stroke="#000" stroke-width="1"/>
<line x1="608" y1="432.5" x2="612" y2="432.5" stroke="#000" stroke-width="1"/>
<line x1="608" y1="440.5" x2="612" y2="440.5" stroke="#000" stroke-width="1"/>
<line x1="608" y1="447.5" x2="612" y2="447.5" stroke="#000" stroke-width="1"/>
<line x1="608" y1="454.5" x2="612" y2="454.5" stroke="#000" stroke-width="1"/>
<line x1="608" y1="461.5" x2="615" y2="461.5" stroke="#000" stroke-width="1"/>
<line x1="608" y1="469.5" x2="612" y2="469.5" stroke="#000" stroke-width="1"/>
<line x1="608" y1="476.5" x2="612" y2="476.5" stroke="#000" stroke-width="1"/>
<line x1="608" y1="483.5" x2="612" y2="483.5" stroke="#000" stroke-width="1"/>
<line x1="608" y1="491.5" x2="612" y2="491.5" stroke="#000" stroke-width="1"/>
<line x1="608" y1="498.5" x2="615" y2="498.5" stroke="#000" stroke-width="1"/>
<line x1="608" y1="505.5" x2="612" y2="505.5" stroke="#000" stroke-width="1"/>
<line x1="608" y1="512.5" x2="612" y2="512.5" stroke="#000" stroke-width="1"/>
<line x1="608" y1="520.5" x2="612" y2="520.5" stroke="#000" stroke-width="1"/>
<line x1="608" y1="527.5" x2="612" y2="527.5" stroke="#000" stroke-width="1"/>
<line x1="608" y1="534.5" x2="615" y2="534.5" stroke="#000" stroke-width="1"/>
<line x1="608" y1="541.5" x2="612" y2="541.5" stroke="#000" stroke-width="1"/>
<line x1="608" y1="549.5" x2="612" y2="549.5" stroke="#000" stroke-width="1"/>
<line x1="608" y1="556.5" x2="612" y2="556.5" stroke="#000" stroke-width="1"/>
<line x1="608" y1="563.5" x2="612" y2="563.5" stroke="#000" stroke-width="1"/>
<line x1="608" y1="570.5" x2="615" y2="570.5" stroke="#000" stroke-width="1"/>
<line x1="608" y1="578.5" x2="612" y2="578.5" stroke="#000" stroke-width="1"/>
<text x="617.1" y="345.3" font-family='"Liberation Sans", sans-serif' font-weight="bold" font-size="11.6" textLength="19.5" lengthAdjust="spacingAndGlyphs">1.7</text>
<text x="617.1" y="393.2" font-family='"Liberation Sans", sans-serif' font-weight="bold" font-size="11.6" textLength="19.7" lengthAdjust="spacingAndGlyphs">1.0</text>
<text x="617.1" y="429.2" font-family='"Liberation Sans", sans-serif' font-weight="bold" font-size="11.6" textLength="19.7" lengthAdjust="spacingAndGlyphs">0.5</text>
<text x="617.1" y="465.2" font-family='"Liberation Sans", sans-serif' font-weight="bold" font-size="11.6" textLength="7.2" lengthAdjust="spacingAndGlyphs">0</text>
<text x="617.1" y="502" font-family='"Liberation Sans", sans-serif' font-weight="bold" font-size="11.6" textLength="24.3" lengthAdjust="spacingAndGlyphs">-0.5</text>
<text x="617.1" y="538" font-family='"Liberation Sans", sans-serif' font-weight="bold" font-size="11.6" textLength="24.3" lengthAdjust="spacingAndGlyphs">-1.0</text>
<text x="617.1" y="586.3" font-family='"Liberation Sans", sans-serif' font-weight="bold" font-size="11.6" textLength="24.3" lengthAdjust="spacingAndGlyphs">-1.7</text>
<text transform="translate(657.3 492.4) rotate(-90)" x="0" y="0" font-family='"Liberation Sans", sans-serif' font-weight="bold" font-size="10" stroke="#000" stroke-width="0.2" textLength="53.6" lengthAdjust="spacingAndGlyphs">Doppler, Hz</text>
<path d="M668.8 402.7 H677 M672.8 398.8 V406.4" stroke="#0000e6" stroke-width="1.2"/>
<text x="682.6" y="406" font-family='"Liberation Sans", sans-serif' font-weight="bold" font-size="10.9" fill="#0000e6" textLength="44.4" lengthAdjust="spacingAndGlyphs">Positive</text>
<circle cx="673" cy="522.8" r="2.7" fill="none" stroke="#e60000" stroke-width="1.1"/>
<text x="682.6" y="526" font-family='"Liberation Sans", sans-serif' font-weight="bold" font-size="10.9" fill="#e60000" textLength="50.4" lengthAdjust="spacingAndGlyphs">Negative</text>
<path d="M33.0 567.5H39.0M33.0 569.5H39.0" stroke="#000" stroke-width="1"/>
<text x="11.5" y="571.8" font-family='"Liberation Mono", monospace' font-size="13" font-style="italic">V</text>
<text x="19.2" y="576.0" font-family='"Liberation Mono", monospace' font-size="12.2" textLength="5.6" lengthAdjust="spacingAndGlyphs" stroke="#000" stroke-width="0.25">h</text>
<text x="52.7" y="571.8" font-family='"Liberation Mono", monospace' font-size="13" font-style="italic">?</text>
<text x="66.0" y="571.8" font-family='"Liberation Mono", monospace' font-size="13">±</text>
<text x="88.0" y="571.8" font-family='"Liberation Mono", monospace' font-size="13" font-style="italic">?</text>
<text x="102.3" y="571.8" font-family='"Liberation Mono", monospace' font-size="13" textLength="21" lengthAdjust="spacingAndGlyphs">m/s</text>
<path d="M488.0 567.5H494.0M488.0 569.5H494.0" stroke="#000" stroke-width="1"/>
<text x="466.5" y="571.8" font-family='"Liberation Mono", monospace' font-size="13" font-style="italic">V</text>
<text x="474.2" y="576.0" font-family='"Liberation Mono", monospace' font-size="10.6" textLength="5.6" lengthAdjust="spacingAndGlyphs" stroke="#000" stroke-width="0.25">z</text>
<text x="507.7" y="571.8" font-family='"Liberation Mono", monospace' font-size="13" font-style="italic">?</text>
<text x="521.0" y="571.8" font-family='"Liberation Mono", monospace' font-size="13">±</text>
<text x="543.0" y="571.8" font-family='"Liberation Mono", monospace' font-size="13" font-style="italic">?</text>
<text x="557.3" y="571.8" font-family='"Liberation Mono", monospace' font-size="13" textLength="21" lengthAdjust="spacingAndGlyphs">m/s</text>
<text x="12" y="592" font-family='"Liberation Mono", monospace' font-style="italic" font-size="11.6" textLength="133" lengthAdjust="spacingAndGlyphs">Compass coordinates</text>
<text x="418.5" y="592" font-family='"Liberation Mono", monospace' font-style="italic" font-size="11.6" xml:space="preserve">Zenith: max 40°</text>
<text x="534.4" y="592" font-family='"Liberation Mono", monospace' font-style="italic" font-size="11.6" xml:space="preserve">step 5°</text>
<text x="654.5" y="592.8" font-family='"Liberation Sans", sans-serif' font-size="9.6" textLength="89" lengthAdjust="spacingAndGlyphs">ShowSkymap v 1.0</text>
<text x="753.8" y="592.8" font-family='"Liberation Sans", sans-serif' font-size="9.6" textLength="38.5" lengthAdjust="spacingAndGlyphs">SD v 5.0</text>
</svg></body></html>
